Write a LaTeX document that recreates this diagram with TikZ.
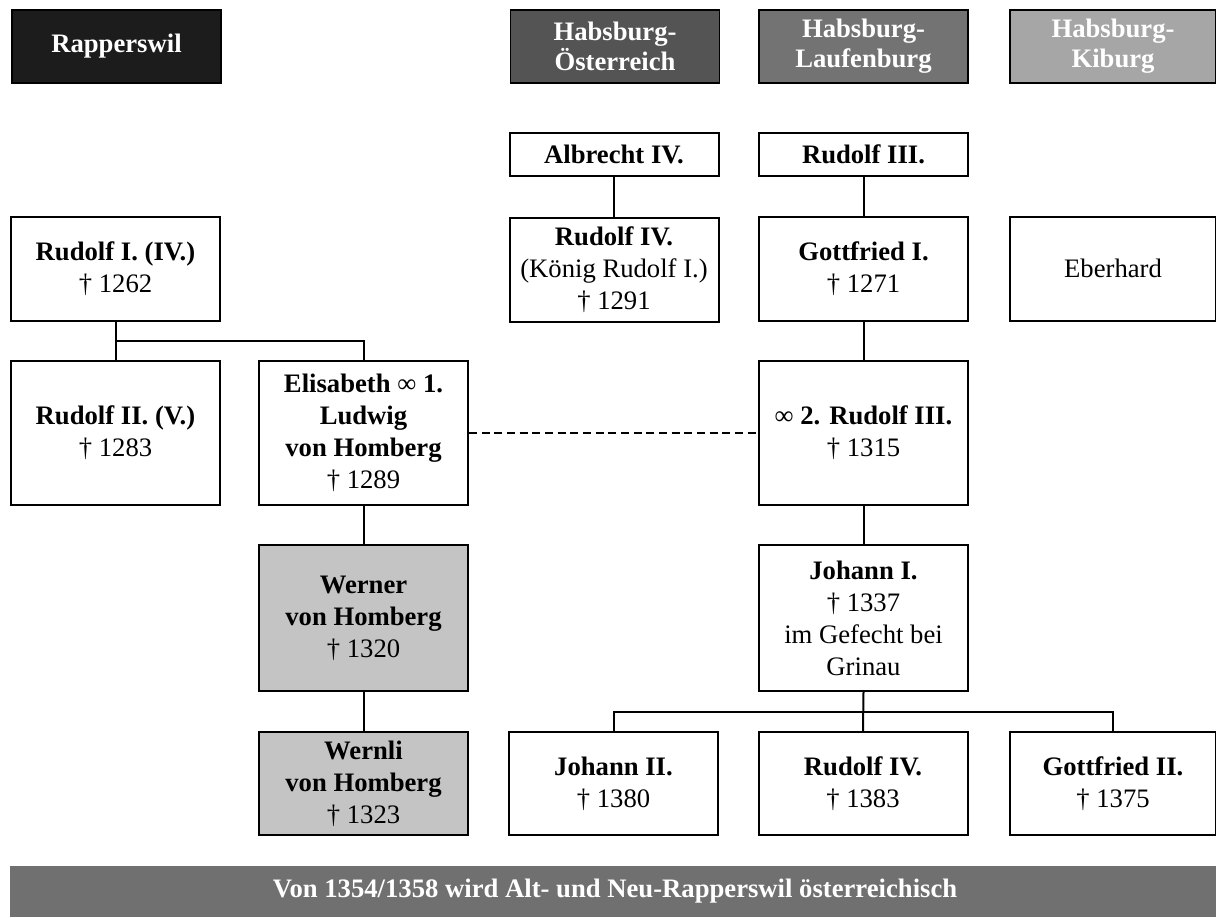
\documentclass[tikz,border=0pt]{standalone}
\usepackage{fontspec}
\setmainfont{Liberation Serif}
\usepackage{tikz}
\usetikzlibrary{
  positioning,
  calc
}
\definecolor{rwBlack}{HTML}{1C1C1C}
\definecolor{rwOest}{HTML}{545454}
\definecolor{rwLauf}{HTML}{737373}
\definecolor{rwKib}{HTML}{A6A6A6}
\definecolor{rwHom}{HTML}{C4C4C4}
\definecolor{rwBar}{HTML}{707070}
\tikzset{
  pbox/.style={
    draw, line width=1.5pt, fill=white, align=center, inner sep=2pt,
    minimum width=156.75pt, font=\fontsize{20}{24}\selectfont
  },
  hdr/.style={pbox, line width=1.1pt, text=white, minimum height=54.75pt, font=\fontsize{20}{22.5}\selectfont\bfseries},
  rowa/.style={pbox, minimum height=32.25pt},
  rowb/.style={pbox, minimum height=78pt},
  rowc/.style={pbox, minimum height=108pt},
  rowd/.style={pbox, minimum height=109.5pt},
  rowe/.style={pbox, minimum height=77.25pt},
  edge/.style={minimum width=154.5pt},
  hombox/.style={fill=rwHom},
  link/.style={line width=1.5pt},
  marriage/.style={line width=1.3pt, dash pattern=on 6pt off 3.5pt},
  banner/.style={
    fill=rwBar, text=white, minimum width=907.5pt, minimum height=38.25pt,
    font=\fontsize{20}{23}\selectfont\bfseries
  }
}

\begin{document}
\begin{tikzpicture}[x=0.75pt, y=-0.75pt]
  \useasboundingbox (0,0) rectangle (1216,917);
  % house headers
  \node[hdr, fill=rwBlack] (hdrRap) at (116.5,46.5) {Rapperswil};
  \node[hdr, fill=rwOest] (hdrOest) at (615,46.5) {Habsburg-\\Österreich};
  \node[hdr, fill=rwLauf] (hdrLauf) at (863.5,46.5) {Habsburg-\\Laufenburg};
  \node[hdr, fill=rwKib, edge] (hdrKib) at (1113,46.5) {Habsburg-\\Kiburg};
  % generations
  \node[rowa] (albrecht) at (614,154.5) {\textbf{Albrecht IV.}};
  \node[rowa] (rudIIIa) at (863.5,154.5) {\textbf{Rudolf III.}};
  \node[rowb] (rudI) at (115.5,268.5) {\textbf{Rudolf I. (IV.)}\\† 1262};
  \node[rowb] (rudIV) at (614,269.5) {\textbf{Rudolf IV.}\\(König Rudolf I.)\\† 1291};
  \node[rowb] (gottI) at (863.5,268.5) {\textbf{Gottfried I.}\\† 1271};
  \node[rowb, edge] (eberhard) at (1113,268.5) {Eberhard};
  \node[rowc] (rudII) at (115.5,433) {\textbf{Rudolf II. (V.)}\\† 1283};
  \node[rowc] (elis) at (363.5,433)
    {\textbf{Elisabeth} ∞ \textbf{1.}\\\textbf{Ludwig}\\\textbf{von Homberg}\\† 1289};
  \node[rowc] (rudIIIb) at (863.5,433) {∞ \textbf{2. Rudolf III.}\\† 1315};
  \node[rowd, hombox] (werner) at (363.5,618) {\textbf{Werner}\\\textbf{von Homberg}\\† 1320};
  \node[rowd] (johI) at (863.5,618) {\textbf{Johann I.}\\† 1337\\im Gefecht bei\\Grinau};
  \node[rowe, hombox] (wernli) at (363.5,783.5) {\textbf{Wernli}\\\textbf{von Homberg}\\† 1323};
  \node[rowe] (johII) at (613.5,783.5) {\textbf{Johann II.}\\† 1380};
  \node[rowe] (rudIVb) at (863,783.5) {\textbf{Rudolf IV.}\\† 1383};
  \node[rowe, edge] (gottII) at (1113,783.5) {\textbf{Gottfried II.}\\† 1375};
  \node[banner] (bar) at (615,891.5) {Von 1354/1358 wird Alt- und Neu-Rapperswil österreichisch};
  % descent lines
  \foreach \a/\b in {albrecht/rudIV,rudIIIa/gottI,gottI/rudIIIb,rudIIIb/johI,
    rudI/rudII,elis/werner,werner/wernli,johI/rudIVb}{\draw[link] (\a.south) -- (\b.north);}
  \draw[link] ($(rudI.south)!0.5!(rudII.north)$) -| (elis.north);
  \draw[link] ($(johI.south)!0.5!(rudIVb.north)$) -| (johII.north);
  \draw[link] ($(johI.south)!0.5!(rudIVb.north)$) -| (gottII.north);
  \draw[marriage] (elis.east) -- (rudIIIb.west);
\end{tikzpicture}
\end{document}
